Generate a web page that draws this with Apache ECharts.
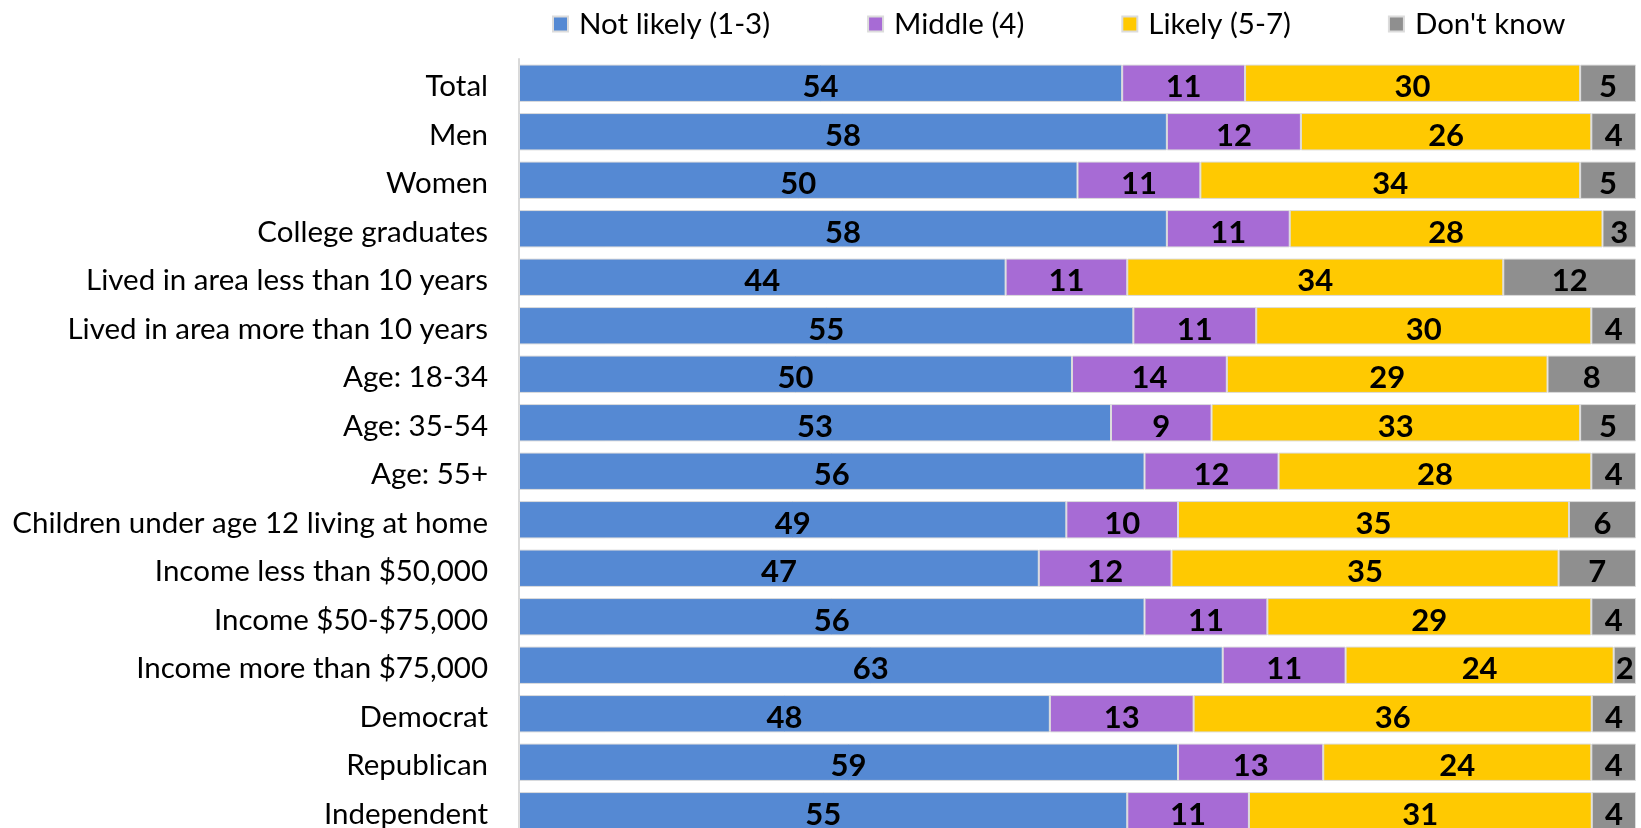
<!DOCTYPE html>
<html>
<head>
<meta charset="utf-8">
<script src="https://cdn.jsdelivr.net/npm/echarts@6/dist/echarts.min.js"></script>
<style>
  html, body { margin: 0; padding: 0; background: #fff; }
  #chart { width: 1641px; height: 828px; }
</style>
</head>
<body>
<div id="chart"></div>
<script>
// categories, top to bottom
const groups = [
  'Total', 'Men', 'Women', 'College graduates',
  'Lived in area less than 10 years', 'Lived in area more than 10 years',
  'Age: 18-34', 'Age: 35-54', 'Age: 55+',
  'Children under age 12 living at home',
  'Income less than $50,000', 'Income $50-$75,000', 'Income more than $75,000',
  'Democrat', 'Republican', 'Independent'
]
const notLikely = [54, 58, 50, 58, 44, 55, 50, 53, 56, 49, 47, 56, 63, 48, 59, 55]
const middle    = [11, 12, 11, 11, 11, 11, 14,  9, 12, 10, 12, 11, 11, 13, 13, 11]
const likely    = [30, 26, 34, 28, 34, 30, 29, 33, 28, 35, 35, 29, 24, 36, 24, 31]
const dontKnow  = [ 5,  4,  5,  3, 12,  4,  8,  5,  4,  6,  7,  4,  2,  4,  4,  4]

const seriesNames = ['Not likely (1-3)', 'Middle (4)', 'Likely (5-7)', "Don't know"]
const colors = ['#5589d3', '#a76bd5', '#ffc901', '#8f8f8f']
const raw = [notLikely, middle, likely, dontKnow]

// 100% stacked: every row is scaled to its own total
const rowSum = groups.map((g, i) => raw.reduce((s, arr) => s + arr[i], 0))

const chart = echarts.init(document.getElementById('chart'))
const font = 'Lato, "Open Sans", sans-serif'

chart.setOption({
  animation: false,
  textStyle: { fontFamily: font },
  legend: {
    left: 547,
    top: 4,
    itemWidth: 15,
    itemHeight: 15,
    itemGap: 97,
    icon: 'rect',
    textStyle: { fontSize: 29.5, color: '#000', fontFamily: font, padding: [0, 0, 0, 6] },
    data: seriesNames
  },
  grid: {
    left: 519,
    right: 5,
    top: 59,
    height: 776,
    outerBoundsMode: 'none'
  },
  xAxis: {
    type: 'value',
    min: 0,
    max: 100,
    show: false
  },
  yAxis: {
    type: 'category',
    inverse: true,
    data: groups,
    axisLine: { show: true, lineStyle: { color: '#d9d9d9', width: 2 } },
    axisTick: { show: false },
    axisLabel: {
      margin: 31,
      formatter: v => '{c|' + v + '}',
      rich: {
        c: { fontSize: 29.5, color: '#000', fontFamily: font, padding: [7, 0, 0, 0] }
      }
    }
  },
  series: raw.map((arr, k) => ({
    name: seriesNames[k],
    type: 'bar',
    stack: 'all',
    barCategoryGap: '23%',
    itemStyle: { color: colors[k], borderColor: '#dcdcdc', borderWidth: 1 },
    label: {
      show: true,
      position: 'inside',
      offset: [0, 4],
      color: '#000',
      fontWeight: 'bold',
      fontSize: 31,
      fontFamily: font,
      formatter: p => arr[p.dataIndex]
    },
    data: arr.map((v, i) => v / rowSum[i] * 100)
  }))
})
</script>
</body>
</html>
